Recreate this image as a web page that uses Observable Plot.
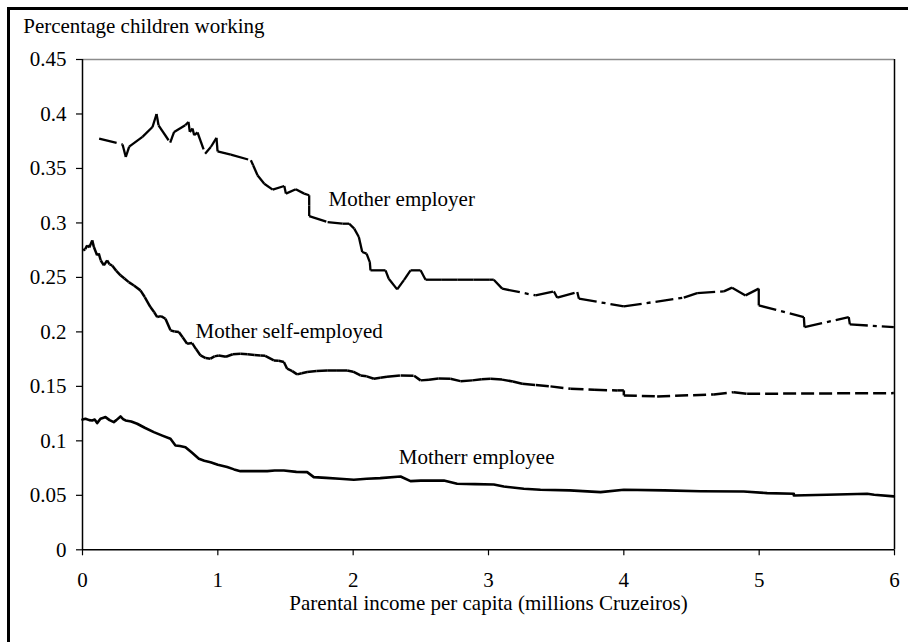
<!DOCTYPE html>
<html><head><meta charset="utf-8">
<script src="https://cdn.jsdelivr.net/npm/d3@7"></script>
<script src="https://cdn.jsdelivr.net/npm/@observablehq/plot@0.6"></script>
<style>
html,body{margin:0;padding:0;width:908px;height:642px;overflow:hidden;background:#fff;}
#frame{position:absolute;left:7px;top:7px;width:940px;height:680px;border-left:3px solid #000;border-top:3px solid #000;}
#chart{position:absolute;left:0;top:0;}
#chart svg, #chart svg text{font-family:"Liberation Serif","DejaVu Serif",serif !important;}
</style></head><body><div id="frame"></div><div id="chart"></div>
<script>
const title = "Percentage children working";
const xLabel = "Parental income per capita (millions Cruzeiros)";
const xTicks = [0, 1, 2, 3, 4, 5, 6];
const xTickLabels = ["0", "1", "2", "3", "4", "5", "6"];
const yTicks = [0, 0.05, 0.1, 0.15, 0.2, 0.25, 0.3, 0.35, 0.4, 0.45];
const yTickLabels = ["0", "0.05", "0.1", "0.15", "0.2", "0.25", "0.3", "0.35", "0.4", "0.45"];
const seriesNames = ["Mother employer", "Mother self-employed", "Motherr employee"];
const labelX = [1.818, 0.835, 2.337];
const labelY = [0.316, 0.1947, 0.0783];

const employerX = [0.123,0.296,0.32,0.345,0.443,0.517,0.547,0.562,0.648,0.677,0.759,0.783,0.793,0.813,0.825,0.85,0.906,0.948,0.99,0.998,1.096,1.244,1.261,1.293,1.343,1.405,1.491,1.503,1.576,1.638,1.675,1.675,1.675,1.811,1.921,1.97,2.008,2.042,2.067,2.099,2.123,2.128,2.239,2.263,2.325,2.375,2.424,2.498,2.535,2.65,2.77,2.89,3.01,3.039,3.101,3.347,3.483,3.508,3.656,3.668,4.0,4.443,4.542,4.739,4.8,4.899,4.997,4.997,5.33,5.335,5.662,5.67,5.995];
const employerY = [0.3774,0.372,0.3605,0.370,0.379,0.388,0.400,0.3896,0.3737,0.3835,0.3896,0.3927,0.3835,0.3866,0.3805,0.383,0.3636,0.3697,0.378,0.3657,0.3627,0.3575,0.353,0.3437,0.336,0.3306,0.3339,0.3269,0.3309,0.3269,0.3254,0.316,0.3063,0.3008,0.2993,0.2993,0.2948,0.2871,0.2733,0.2718,0.2641,0.2565,0.2565,0.2488,0.239,0.2475,0.2565,0.2565,0.2479,0.2479,0.2479,0.2479,0.2479,0.2479,0.2397,0.2335,0.2372,0.2314,0.2366,0.2305,0.2234,0.2314,0.2356,0.2372,0.2406,0.2335,0.2397,0.2243,0.2136,0.2044,0.2136,0.2069,0.2044];

const selfX = [0.005,0.02,0.035,0.05,0.072,0.084,0.108,0.12,0.135,0.158,0.182,0.2,0.219,0.25,0.281,0.31,0.342,0.38,0.428,0.46,0.502,0.53,0.552,0.58,0.613,0.65,0.68,0.712,0.74,0.773,0.81,0.84,0.872,0.91,0.946,0.975,1.007,1.06,1.11,1.167,1.22,1.27,1.315,1.35,1.414,1.45,1.488,1.512,1.55,1.586,1.62,1.66,1.73,1.808,1.88,1.956,2.0,2.054,2.1,2.153,2.2,2.25,2.35,2.45,2.498,2.56,2.63,2.719,2.793,2.88,2.95,3.015,3.1,3.18,3.249,3.35,3.458,3.606,3.78,3.951,4.0,4.0,4.246,4.665,4.812,4.911,5.995];
const selfY = [0.2748,0.276,0.2794,0.2775,0.284,0.2779,0.2702,0.272,0.2655,0.261,0.2656,0.262,0.261,0.256,0.2519,0.249,0.2457,0.2425,0.2381,0.232,0.2228,0.218,0.2136,0.2145,0.2121,0.2014,0.2003,0.1998,0.195,0.1892,0.1897,0.184,0.1784,0.176,0.1754,0.1775,0.1784,0.1772,0.1795,0.18,0.1795,0.1788,0.1784,0.178,0.1738,0.1735,0.1723,0.1662,0.164,0.161,0.162,0.1631,0.164,0.1646,0.1645,0.1646,0.1635,0.16,0.1592,0.157,0.158,0.1588,0.16,0.1598,0.1555,0.156,0.1572,0.157,0.1548,0.1555,0.1565,0.157,0.1562,0.1545,0.1524,0.1512,0.15,0.1478,0.1468,0.1463,0.1463,0.1417,0.1408,0.1426,0.1447,0.1432,0.1438];

const employeeX = [0.0,0.022,0.05,0.072,0.09,0.108,0.133,0.15,0.17,0.2,0.231,0.25,0.281,0.3,0.318,0.36,0.404,0.46,0.527,0.59,0.65,0.687,0.72,0.761,0.81,0.86,0.9,0.946,1.0,1.069,1.12,1.167,1.26,1.365,1.42,1.488,1.58,1.66,1.709,1.8,1.9,2.005,2.1,2.2,2.35,2.424,2.5,2.67,2.768,2.9,3.039,3.113,3.261,3.384,3.6,3.828,4.0,4.3,4.567,4.886,5.059,5.256,5.256,5.5,5.798,5.85,5.995];
const employeeY = [0.1195,0.1203,0.119,0.1187,0.1195,0.1163,0.1203,0.121,0.1218,0.119,0.1172,0.119,0.1224,0.120,0.1187,0.1178,0.1157,0.112,0.108,0.1048,0.1019,0.0958,0.0952,0.0942,0.089,0.0836,0.0818,0.0804,0.078,0.0759,0.0738,0.0722,0.0722,0.0722,0.0728,0.0728,0.0715,0.0713,0.0667,0.066,0.0652,0.0643,0.0652,0.0658,0.0673,0.063,0.0635,0.0636,0.0606,0.0603,0.06,0.0581,0.056,0.0551,0.0545,0.0529,0.0551,0.0545,0.0538,0.0535,0.052,0.0515,0.0499,0.0505,0.0514,0.0505,0.049];

function segments(xs, ys) {
  const out = [];
  for (let i = 0; i < xs.length - 1; i++) out.push({x1: xs[i], y1: ys[i], x2: xs[i + 1], y2: ys[i + 1]});
  return out;
}
const employeePts = employeeX.map((x, i) => ({x, y: employeeY[i]}));
const labels = seriesNames.map((name, i) => ({name, x: labelX[i], y: labelY[i]}));
const serif = "Liberation Serif, DejaVu Serif, serif";

const chart = Plot.plot({
  width: 908, height: 642,
  marginLeft: 82, marginRight: 14, marginTop: 59, marginBottom: 92.7,
  x: {domain: [0, 6]},
  y: {domain: [0, 0.45]},
  style: {fontFamily: serif, fontSize: "21px", color: "#000", background: "transparent", overflow: "visible"},
  marks: [
    Plot.ruleY([0.45], {stroke: "#8c8c8c", strokeWidth: 1.5}),
    Plot.ruleX([6], {stroke: "#000", strokeWidth: 1.5}),
    Plot.axisY({ticks: yTicks, tickFormat: d => yTickLabels[yTicks.indexOf(d)], tickSize: 6, tickPadding: 10, label: null, stroke: "#000", fill: "#000", strokeWidth: 1.2, fontSize: 21, fontFamily: serif}),
    Plot.axisX({ticks: xTicks, tickFormat: d => xTickLabels[xTicks.indexOf(d)], tickSize: 6, tickPadding: 16, label: null, stroke: "#000", fill: "#000", strokeWidth: 1.2, fontSize: 21, fontFamily: serif}),
    Plot.ruleX([0], {stroke: "#000", strokeWidth: 1.5}),
    Plot.ruleY([0], {stroke: "#000", strokeWidth: 1.5}),
    Plot.line(employeePts, {x: "x", y: "y", stroke: "#000", strokeWidth: 2.6, strokeLinejoin: "round"}),
    Plot.link(segments(selfX, selfY), {x1: "x1", y1: "y1", x2: "x2", y2: "y2", stroke: "#000", strokeWidth: 2.5, strokeDasharray: "13,5", strokeLinejoin: "round"}),
    Plot.link(segments(employerX, employerY), {x1: "x1", y1: "y1", x2: "x2", y2: "y2", stroke: "#000", strokeWidth: 2.3, strokeDasharray: "18,5,4,5", strokeLinejoin: "round"}),
    Plot.text(labels, {x: "x", y: "y", text: "name", textAnchor: "start", lineAnchor: "bottom", fill: "#000", fontSize: 21, fontFamily: serif}),
    Plot.text([title], {frameAnchor: "top-left", dx: -59.3, dy: -26.3, textAnchor: "start", lineAnchor: "bottom", fill: "#000", fontSize: 21, fontFamily: serif}),
    Plot.text([xLabel], {frameAnchor: "bottom", dy: 59.7, lineAnchor: "bottom", fill: "#000", fontSize: 21, fontFamily: serif})
  ]
});
document.getElementById("chart").appendChild(chart);
</script></body></html>
